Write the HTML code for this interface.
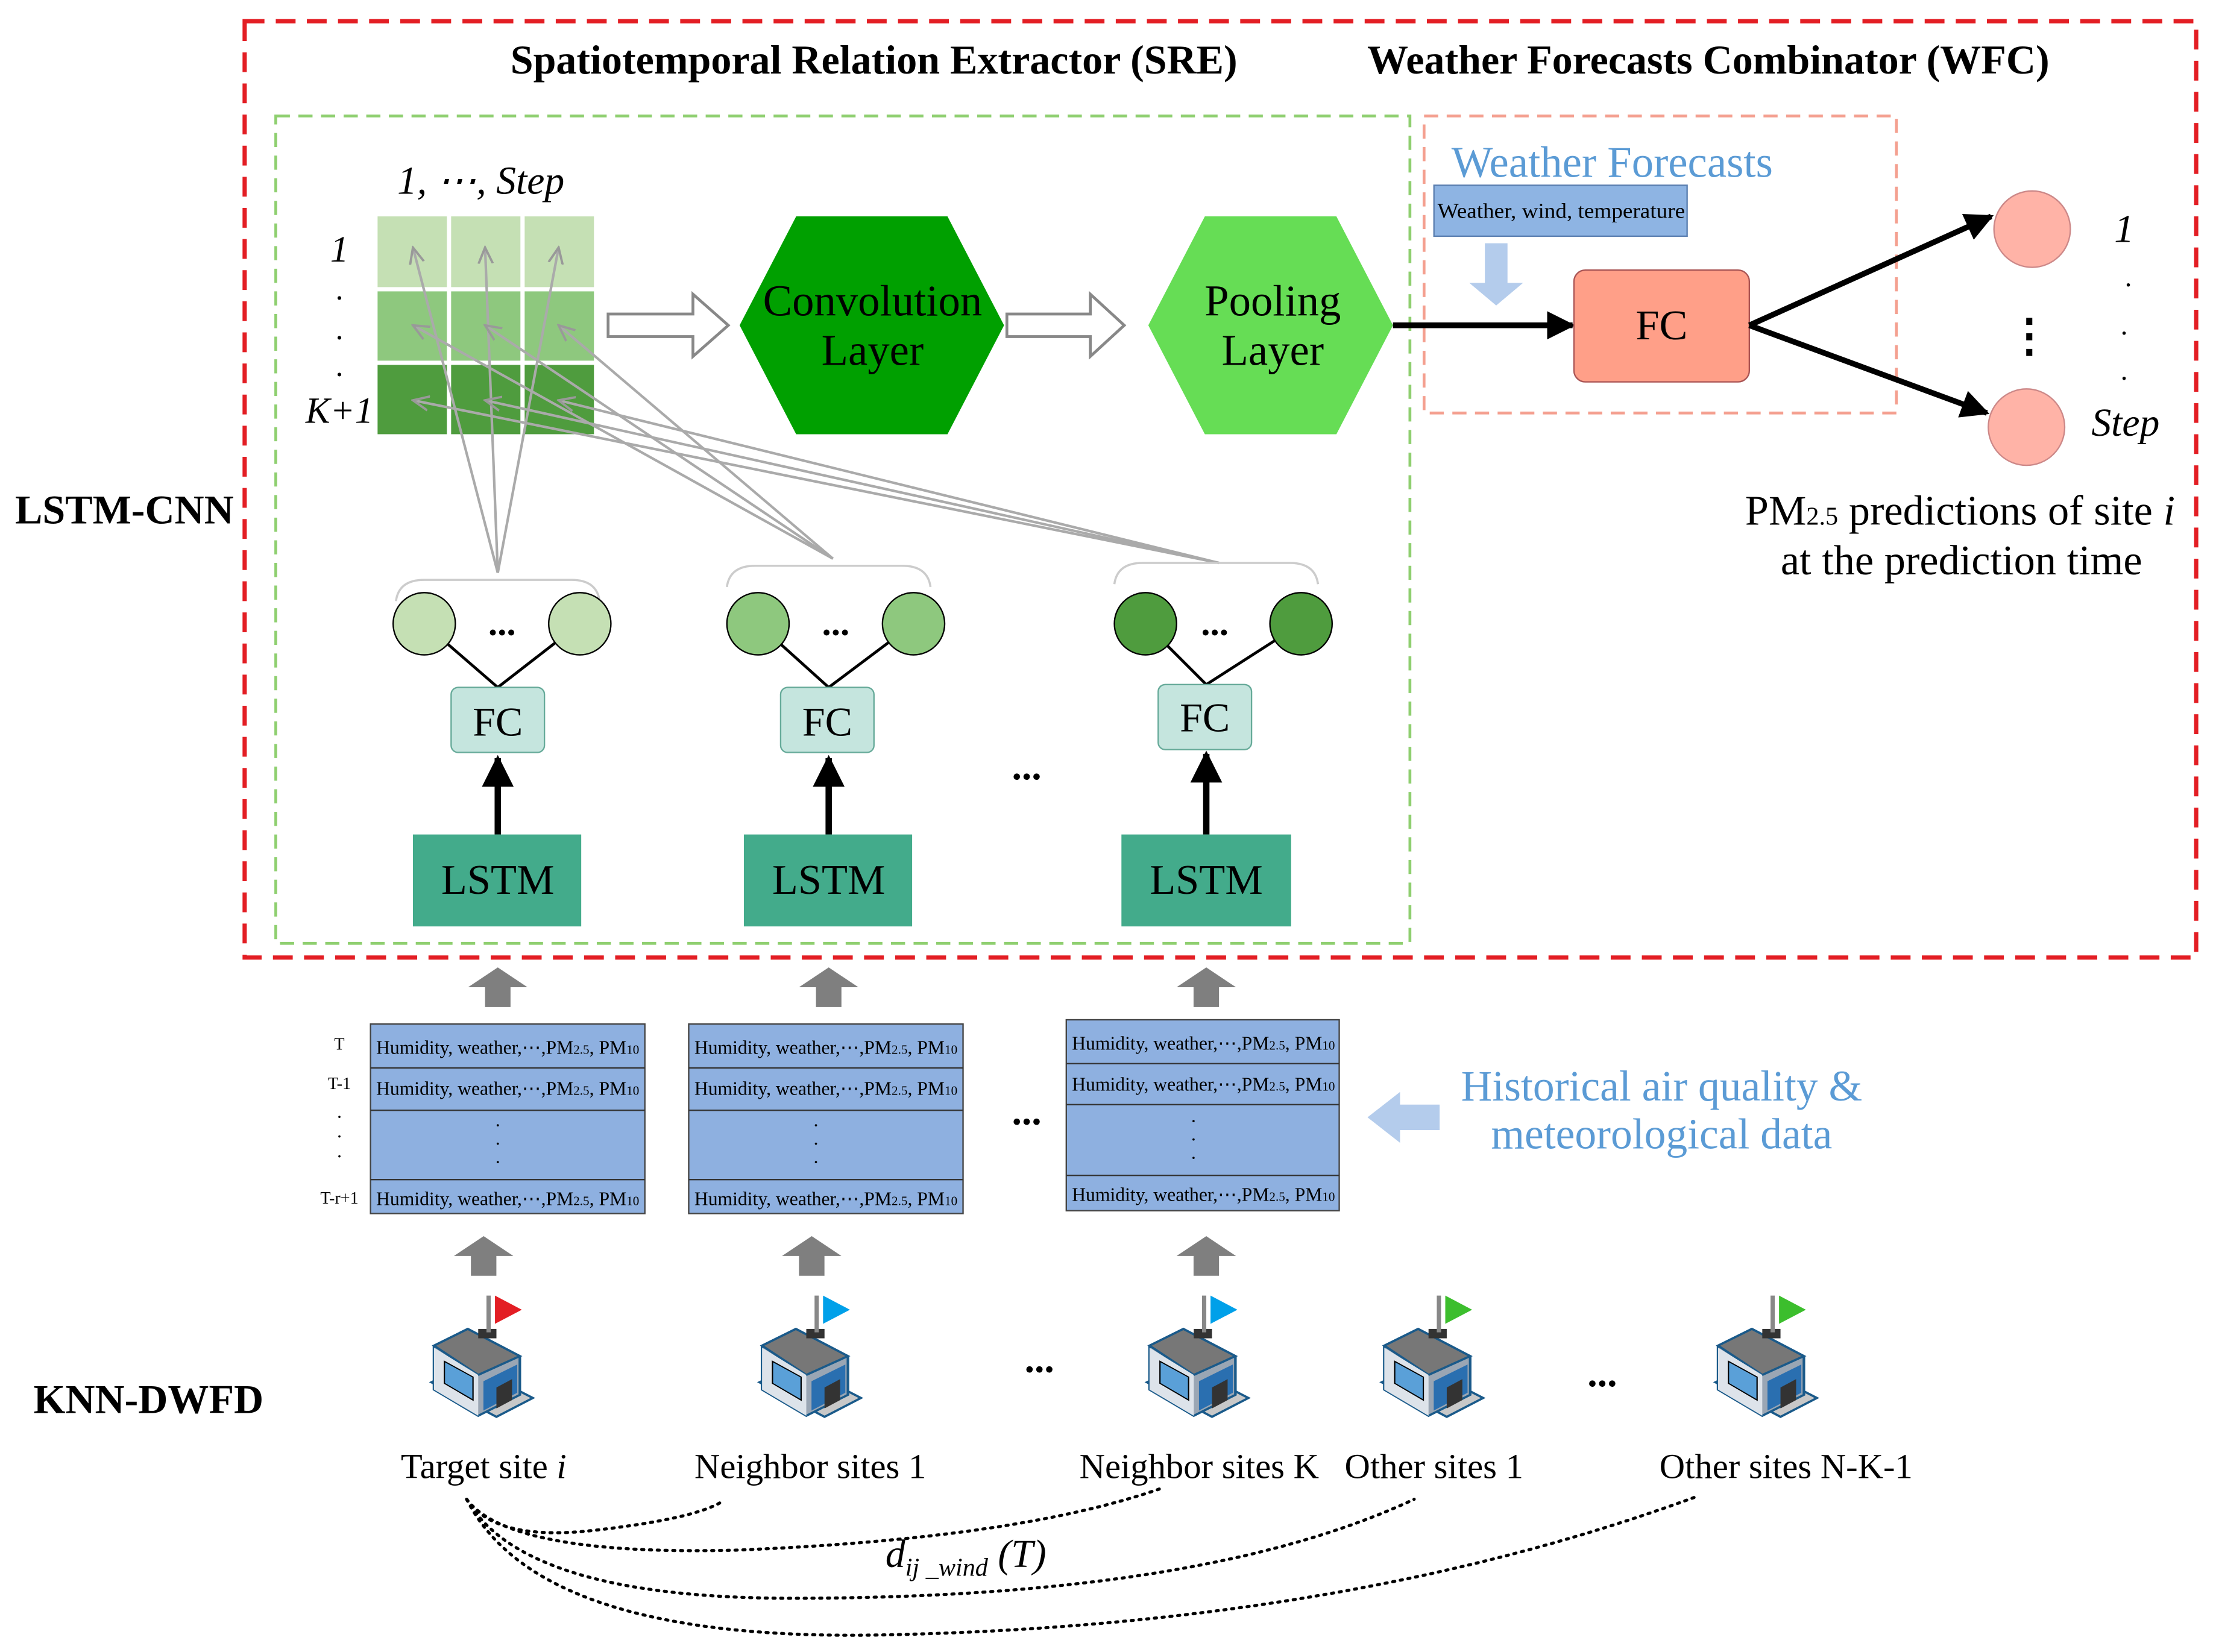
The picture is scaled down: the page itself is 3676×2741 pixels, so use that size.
<!DOCTYPE html>
<html><head><meta charset="utf-8"><style>
html,body{margin:0;padding:0;background:#fff}
svg{display:block}
text{font-family:"Liberation Serif",serif}
</style></head><body>
<svg width="3676" height="2741" viewBox="0 0 1567 1168" preserveAspectRatio="none" xmlns="http://www.w3.org/2000/svg">
<defs>
<marker id="ah" viewBox="0 0 10 10" refX="9" refY="5" markerWidth="5" markerHeight="5" orient="auto"><path d="M0,0L10,5L0,10z" fill="#000"/></marker>
<marker id="gh" viewBox="0 0 10 10" refX="9" refY="5" markerWidth="7" markerHeight="7" orient="auto"><path d="M0,1L9,5L0,9" fill="none" stroke="#999" stroke-width="1.3"/></marker>
<g id="bld">
<g transform="scale(0.92,0.74)">
<polygon points="-38,45 -10,28 40,60 12,78" fill="#c8c8c8" stroke="#1a5a8a" stroke-width="2"/>
<polygon points="-36,10 -10,-6 30,20 30,57 -2,77 -36,52" fill="#9aa6b4" stroke="#1a5a8a" stroke-width="2"/>
<polygon points="-36,10 -10,-6 30,20 -2,38" fill="#777" stroke="#1a5a8a" stroke-width="2"/>
<polygon points="-36,12 -2,38 -2,77 -36,52" fill="#dde3ea"/>
<polygon points="-28,25 -6,40 -6,62 -28,46" fill="#5aa0d8" stroke="#000" stroke-width="1"/>
<polygon points="2,44 28,28 28,55 2,72" fill="#2a6fb0"/>
<polygon points="12,50 24,42 24,62 12,70" fill="#333"/>
<rect x="-2" y="-6" width="14" height="9" fill="#333"/>
</g>
<rect x="4" y="-28" width="3" height="26" fill="#888"/>
</g>
</defs>

<!-- frames -->
<rect x="173" y="15" width="1380" height="662" fill="none" stroke="#e31e24" stroke-width="3" stroke-dasharray="14,8"/>
<rect x="195" y="82" width="802" height="585" fill="none" stroke="#8fcf70" stroke-width="2" stroke-dasharray="10,6"/>
<rect x="1007" y="82" width="334" height="210" fill="none" stroke="#f4a090" stroke-width="2" stroke-dasharray="10,6"/>

<text x="618" y="52" font-size="29" font-weight="bold" text-anchor="middle">Spatiotemporal Relation Extractor (SRE)</text>
<text x="1208" y="52" font-size="29" font-weight="bold" text-anchor="middle">Weather Forecasts Combinator (WFC)</text>
<text x="88" y="370" font-size="29" font-weight="bold" text-anchor="middle">LSTM-CNN</text>
<text x="105" y="999" font-size="29" font-weight="bold" text-anchor="middle">KNN-DWFD</text>

<!-- grid -->
<g>
<rect x="267" y="153" width="49" height="50" fill="#c5e0b4"/><rect x="319" y="153" width="49" height="50" fill="#c5e0b4"/><rect x="371" y="153" width="49" height="50" fill="#c5e0b4"/>
<rect x="267" y="206" width="49" height="49" fill="#8ec87e"/><rect x="319" y="206" width="49" height="49" fill="#8ec87e"/><rect x="371" y="206" width="49" height="49" fill="#8ec87e"/>
<rect x="267" y="258" width="49" height="49" fill="#4f9c3e"/><rect x="319" y="258" width="49" height="49" fill="#4f9c3e"/><rect x="371" y="258" width="49" height="49" fill="#4f9c3e"/>
</g>
<text x="340" y="137" font-size="28" font-style="italic" text-anchor="middle">1, ⋯, Step</text>
<text x="240" y="185" font-size="26" font-style="italic" text-anchor="middle">1</text>
<text x="240" y="218" font-size="22" text-anchor="middle">·</text>
<text x="240" y="246" font-size="22" text-anchor="middle">·</text>
<text x="240" y="272" font-size="22" text-anchor="middle">·</text>
<text x="240" y="299" font-size="26" font-style="italic" text-anchor="middle">K+1</text>

<!-- grey lines to grid -->
<g stroke="#aaa" stroke-width="1.8" fill="none" marker-end="url(#gh)">
<line x1="352" y1="405" x2="292" y2="175"/><line x1="352" y1="405" x2="343" y2="175"/><line x1="352" y1="405" x2="395" y2="175"/>
<line x1="589" y1="395" x2="292" y2="230"/><line x1="589" y1="395" x2="343" y2="230"/><line x1="589" y1="395" x2="395" y2="230"/>
<line x1="862" y1="398" x2="292" y2="283"/><line x1="862" y1="398" x2="343" y2="283"/><line x1="862" y1="398" x2="395" y2="283"/>
</g>

<!-- hollow arrows -->
<path d="M430,222 H490 V208 L515,230 L490,252 V238 H430 Z" fill="#fff" stroke="#888" stroke-width="2"/>
<path d="M712,222 H771 V208 L795,230 L771,252 V238 H712 Z" fill="#fff" stroke="#888" stroke-width="2"/>

<!-- hexagons -->
<polygon points="523,230 563,153 670,153 710,230 670,307 563,307" fill="#00a000"/>
<text x="617" y="223" font-size="31" text-anchor="middle">Convolution</text>
<text x="617" y="258" font-size="31" text-anchor="middle">Layer</text>
<polygon points="812,230 852,153 945,153 985,230 945,307 852,307" fill="#66dd55"/>
<text x="900" y="223" font-size="31" text-anchor="middle">Pooling</text>
<text x="900" y="258" font-size="31" text-anchor="middle">Layer</text>

<line x1="985" y1="230" x2="1112" y2="230" stroke="#000" stroke-width="4" marker-end="url(#ah)"/>

<!-- WFC -->
<text x="1140" y="125" font-size="31" fill="#5b9bd5" text-anchor="middle">Weather Forecasts</text>
<rect x="1014" y="131" width="179" height="36" fill="#8eb4e3" stroke="#5b7fb0" stroke-width="1"/>
<text x="1104" y="154" font-size="15" text-anchor="middle" textLength="175" lengthAdjust="spacingAndGlyphs">Weather, wind, temperature</text>
<path d="M1050,172 H1066 V200 H1077 L1058,216 L1039,200 H1050 Z" fill="#b4ccec"/>
<rect x="1113" y="191" width="124" height="79" rx="8" fill="#ff9f88" stroke="#a55" stroke-width="1"/>
<text x="1175" y="240" font-size="30" text-anchor="middle">FC</text>
<line x1="1237" y1="230" x2="1408" y2="153" stroke="#000" stroke-width="4" marker-end="url(#ah)"/>
<line x1="1237" y1="230" x2="1405" y2="292" stroke="#000" stroke-width="4" marker-end="url(#ah)"/>
<circle cx="1437" cy="162" r="27" fill="#ffb3a7" stroke="#c88" stroke-width="1"/>
<circle cx="1433" cy="302" r="27" fill="#ffb3a7" stroke="#c88" stroke-width="1"/>
<text x="1435" y="248" font-size="32" font-weight="bold" text-anchor="middle">⋮</text>
<text x="1502" y="171" font-size="28" font-style="italic" text-anchor="middle">1</text>
<text x="1505" y="208" font-size="20" text-anchor="middle">·</text>
<text x="1502" y="242" font-size="20" text-anchor="middle">·</text>
<text x="1502" y="274" font-size="20" text-anchor="middle">·</text>
<text x="1503" y="308" font-size="28" font-style="italic" text-anchor="middle">Step</text>
<text x="1386" y="371" font-size="30" text-anchor="middle">PM<tspan font-size="18">2.5</tspan> predictions of site <tspan font-style="italic">i</tspan></text>
<text x="1387" y="406" font-size="30" text-anchor="middle">at the prediction time</text>

<!-- columns -->
<path d="M280,425 Q282,410 300,410 H404 Q422,410 424,425" fill="none" stroke="#ccc" stroke-width="1.5"/>
<line x1="300" y1="441" x2="352" y2="486" stroke="#000" stroke-width="2"/>
<line x1="410" y1="441" x2="352" y2="486" stroke="#000" stroke-width="2"/>
<circle cx="300" cy="441" r="22" fill="#c5e0b4" stroke="#000" stroke-width="1"/>
<circle cx="410" cy="441" r="22" fill="#c5e0b4" stroke="#000" stroke-width="1"/>
<text x="355" y="449" font-size="26" font-weight="bold" text-anchor="middle">...</text>
<rect x="319" y="486" width="66" height="46" rx="5" fill="#c5e5de" stroke="#6a9" stroke-width="1"/>
<text x="352" y="520" font-size="29" text-anchor="middle">FC</text>
<line x1="352" y1="590" x2="352" y2="536" stroke="#000" stroke-width="4.5" marker-end="url(#ah)"/>
<rect x="292" y="590" width="119" height="65" fill="#43ab8b"/>
<text x="352" y="632" font-size="30" text-anchor="middle">LSTM</text>

<g transform="translate(234,-10)">
<path d="M280,425 Q282,410 300,410 H404 Q422,410 424,425" fill="none" stroke="#ccc" stroke-width="1.5"/>
</g>
<line x1="536" y1="441" x2="586" y2="486" stroke="#000" stroke-width="2"/>
<line x1="646" y1="441" x2="586" y2="486" stroke="#000" stroke-width="2"/>
<circle cx="536" cy="441" r="22" fill="#8ec87e" stroke="#000" stroke-width="1"/>
<circle cx="646" cy="441" r="22" fill="#8ec87e" stroke="#000" stroke-width="1"/>
<text x="591" y="449" font-size="26" font-weight="bold" text-anchor="middle">...</text>
<rect x="552" y="486" width="66" height="46" rx="5" fill="#c5e5de" stroke="#6a9" stroke-width="1"/>
<text x="585" y="520" font-size="29" text-anchor="middle">FC</text>
<line x1="586" y1="590" x2="586" y2="536" stroke="#000" stroke-width="4.5" marker-end="url(#ah)"/>
<rect x="526" y="590" width="119" height="65" fill="#43ab8b"/>
<text x="586" y="632" font-size="30" text-anchor="middle">LSTM</text>

<g transform="translate(508,-12)">
<path d="M280,425 Q282,410 300,410 H404 Q422,410 424,425" fill="none" stroke="#ccc" stroke-width="1.5"/>
</g>
<line x1="810" y1="441" x2="853" y2="484" stroke="#000" stroke-width="2"/>
<line x1="920" y1="441" x2="853" y2="484" stroke="#000" stroke-width="2"/>
<circle cx="810" cy="441" r="22" fill="#4f9c3e" stroke="#000" stroke-width="1"/>
<circle cx="920" cy="441" r="22" fill="#4f9c3e" stroke="#000" stroke-width="1"/>
<text x="859" y="449" font-size="26" font-weight="bold" text-anchor="middle">...</text>
<rect x="819" y="484" width="66" height="46" rx="5" fill="#c5e5de" stroke="#6a9" stroke-width="1"/>
<text x="852" y="517" font-size="29" text-anchor="middle">FC</text>
<line x1="853" y1="590" x2="853" y2="533" stroke="#000" stroke-width="4.5" marker-end="url(#ah)"/>
<rect x="793" y="590" width="120" height="65" fill="#43ab8b"/>
<text x="853" y="632" font-size="30" text-anchor="middle">LSTM</text>
<text x="726" y="551" font-size="28" font-weight="bold" text-anchor="middle">...</text>

<!-- grey up arrows -->
<g fill="#7f7f7f">
<path d="M343,712 V698 H331 L352,684 L373,698 H361 V712 Z"/>
<path d="M577,712 V698 H565 L586,684 L607,698 H595 V712 Z"/>
<path d="M844,712 V698 H832 L853,684 L874,698 H862 V712 Z"/>
<path d="M333,902 V888 H321 L342,874 L363,888 H351 V902 Z"/>
<path d="M565,902 V888 H553 L574,874 L595,888 H583 V902 Z"/>
<path d="M844,902 V888 H832 L853,874 L874,888 H862 V902 Z"/>
</g>

<!-- tables -->
<g font-size="13.5">
<rect x="262" y="724" width="194" height="134" fill="#8eb0e0" stroke="#444" stroke-width="1"/>
<line x1="262" y1="755" x2="456" y2="755" stroke="#333"/><line x1="262" y1="785" x2="456" y2="785" stroke="#333"/><line x1="262" y1="834" x2="456" y2="834" stroke="#333"/>
<text x="359" y="745" text-anchor="middle">Humidity, weather,⋯,PM<tspan font-size="9">2.5</tspan>, PM<tspan font-size="9">10</tspan></text>
<text x="359" y="774" text-anchor="middle">Humidity, weather,⋯,PM<tspan font-size="9">2.5</tspan>, PM<tspan font-size="9">10</tspan></text>
<text x="359" y="852" text-anchor="middle">Humidity, weather,⋯,PM<tspan font-size="9">2.5</tspan>, PM<tspan font-size="9">10</tspan></text>
<text x="352" y="800" text-anchor="middle">·</text><text x="352" y="813" text-anchor="middle">·</text><text x="352" y="826" text-anchor="middle">·</text>
<text x="240" y="742" text-anchor="middle" font-size="12">T</text><text x="240" y="770" text-anchor="middle" font-size="12">T-1</text>
<text x="240" y="794" text-anchor="middle">·</text><text x="240" y="808" text-anchor="middle">·</text><text x="240" y="822" text-anchor="middle">·</text>
<text x="240" y="851" text-anchor="middle" font-size="12">T-r+1</text>

<rect x="487" y="724" width="194" height="134" fill="#8eb0e0" stroke="#444" stroke-width="1"/>
<line x1="487" y1="755" x2="681" y2="755" stroke="#333"/><line x1="487" y1="785" x2="681" y2="785" stroke="#333"/><line x1="487" y1="834" x2="681" y2="834" stroke="#333"/>
<text x="584" y="745" text-anchor="middle">Humidity, weather,⋯,PM<tspan font-size="9">2.5</tspan>, PM<tspan font-size="9">10</tspan></text>
<text x="584" y="774" text-anchor="middle">Humidity, weather,⋯,PM<tspan font-size="9">2.5</tspan>, PM<tspan font-size="9">10</tspan></text>
<text x="584" y="852" text-anchor="middle">Humidity, weather,⋯,PM<tspan font-size="9">2.5</tspan>, PM<tspan font-size="9">10</tspan></text>
<text x="577" y="800" text-anchor="middle">·</text><text x="577" y="813" text-anchor="middle">·</text><text x="577" y="826" text-anchor="middle">·</text>

<rect x="754" y="721" width="193" height="135" fill="#8eb0e0" stroke="#444" stroke-width="1"/>
<line x1="754" y1="752" x2="947" y2="752" stroke="#333"/><line x1="754" y1="781" x2="947" y2="781" stroke="#333"/><line x1="754" y1="831" x2="947" y2="831" stroke="#333"/>
<text x="851" y="742" text-anchor="middle">Humidity, weather,⋯,PM<tspan font-size="9">2.5</tspan>, PM<tspan font-size="9">10</tspan></text>
<text x="851" y="771" text-anchor="middle">Humidity, weather,⋯,PM<tspan font-size="9">2.5</tspan>, PM<tspan font-size="9">10</tspan></text>
<text x="851" y="849" text-anchor="middle">Humidity, weather,⋯,PM<tspan font-size="9">2.5</tspan>, PM<tspan font-size="9">10</tspan></text>
<text x="844" y="797" text-anchor="middle">·</text><text x="844" y="810" text-anchor="middle">·</text><text x="844" y="823" text-anchor="middle">·</text>
</g>
<text x="726" y="795" font-size="28" font-weight="bold" text-anchor="middle">...</text>
<path d="M1018,781 H990 V772 L967,790 L990,808 V799 H1018 Z" fill="#b4ccec"/>
<text x="1175" y="778" font-size="30.5" fill="#5b9bd5" text-anchor="middle">Historical air quality &amp;</text>
<text x="1175" y="812" font-size="30.5" fill="#5b9bd5" text-anchor="middle">meteorological data</text>

<!-- buildings -->
<use href="#bld" x="340" y="944"/>
<polygon points="350,916 369,926 350,936" fill="#e31e24"/>
<use href="#bld" x="572" y="944"/>
<polygon points="582,916 601,926 582,936" fill="#00a0e9"/>
<use href="#bld" x="846" y="944"/>
<polygon points="856,916 875,926 856,936" fill="#00a0e9"/>
<use href="#bld" x="1012" y="944"/>
<polygon points="1022,916 1041,926 1022,936" fill="#3cbe2d"/>
<use href="#bld" x="1248" y="944"/>
<polygon points="1258,916 1277,926 1258,936" fill="#3cbe2d"/>
<text x="735" y="970" font-size="28" font-weight="bold" text-anchor="middle">...</text>
<text x="1133" y="980" font-size="28" font-weight="bold" text-anchor="middle">...</text>

<g font-size="25" text-anchor="middle">
<text x="342" y="1045">Target site <tspan font-style="italic">i</tspan></text>
<text x="573" y="1045">Neighbor sites 1</text>
<text x="848" y="1045">Neighbor sites K</text>
<text x="1014" y="1045">Other sites 1</text>
<text x="1263" y="1045">Other sites N-K-1</text>
</g>

<!-- dotted curves -->
<g fill="none" stroke="#000" stroke-width="2.2" stroke-dasharray="1.5,4" stroke-linecap="round">
<path d="M330,1060 Q350,1090 420,1082 T510,1062"/>
<path d="M330,1060 Q360,1100 520,1096 Q720,1088 822,1052"/>
<path d="M330,1060 Q370,1130 560,1130 Q850,1130 1000,1060"/>
<path d="M330,1060 Q380,1160 620,1156 Q950,1150 1200,1058"/>
</g>
<text x="683" y="1108" font-size="28" font-style="italic" text-anchor="middle">d<tspan font-size="18" dy="6">ij _wind</tspan><tspan dy="-6"> (T)</tspan></text>
</svg>
</body></html>
